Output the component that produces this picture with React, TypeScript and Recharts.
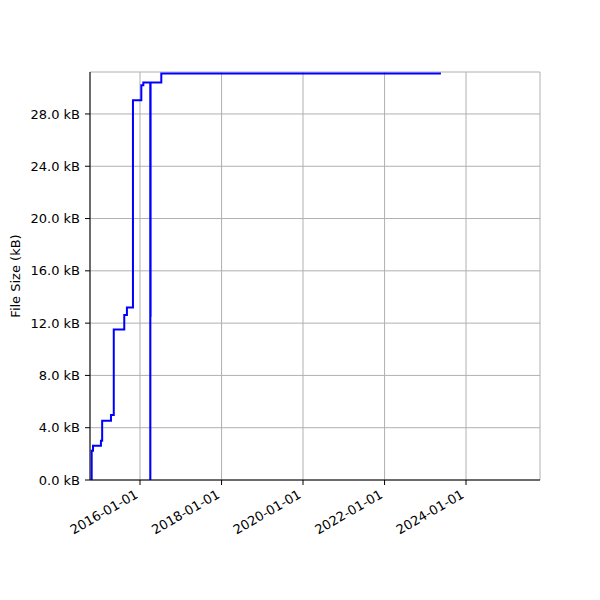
import React from "react";
import { LineChart, Line, XAxis, YAxis, CartesianGrid } from "recharts";

const dates = [
  "2014-10-19", "2014-10-25", "2014-11-06", "2015-01-16", "2015-01-27",
  "2015-04-16", "2015-05-11", "2015-08-13", "2015-09-06", "2015-10-30",
  "2016-01-13", "2016-01-31", "2016-04-02", "2016-04-03", "2016-04-05",
  "2016-07-10", "2023-05-21",
];
const sizesKB = [
  0, 2.24, 2.62, 3.0, 4.53,
  4.97, 11.52, 12.62, 13.2, 29.04,
  30.19, 30.4, 0, 12.57, 30.4,
  31.09, 31.09,
];
const xTickDates = ["2016-01-01", "2018-01-01", "2020-01-01", "2022-01-01", "2024-01-01"];
const yTicks = [0, 4, 8, 12, 16, 20, 24, 28];
const xDomainDates = ["2014-10-10", "2025-10-25"];
const yDomain = [0, 31.21];

const toTs = (d: string) => Date.parse(d + "T00:00:00Z");
const data = dates.map((d, i) => ({ t: toTs(d), v: sizesKB[i] }));
const xTicks = xTickDates.map(toTs);
const xDomain = xDomainDates.map(toTs);

const FONT = "DejaVu Sans";

const XTick = (props: any) => {
  const { x, y, payload } = props;
  const label = new Date(payload.value).toISOString().slice(0, 10);
  return (
    <g transform={`translate(${x - 1},${y + 10})`}>
      <text
        x={0}
        y={0}
        textAnchor="end"
        transform="rotate(-30)"
        fontFamily={FONT}
        fontSize={13}
        fill="#000"
      >
        {label}
      </text>
    </g>
  );
};

export default function App() {
  return (
    <div style={{ position: "absolute", left: 0, top: 0, width: 600, height: 600, background: "#fff" }}>
      <LineChart
        width={600}
        height={600}
        data={data}
        margin={{ top: 72, right: 60, bottom: 0, left: 0 }}
      >
        <CartesianGrid stroke="#b0b0b0" strokeWidth={1} />
        <XAxis
          dataKey="t"
          type="number"
          domain={xDomain}
          ticks={xTicks}
          allowDataOverflow
          height={120}
          tick={<XTick />}
          tickSize={5}
          tickMargin={2}
          axisLine={{ stroke: "#000", strokeWidth: 1 }}
          tickLine={{ stroke: "#000", strokeWidth: 1 }}
          interval={0}
        />
        <XAxis
          xAxisId="top"
          orientation="top"
          dataKey="t"
          type="number"
          domain={xDomain}
          allowDataOverflow
          height={0}
          tick={false}
          tickLine={false}
          axisLine={{ stroke: "#000", strokeWidth: 1 }}
        />
        <YAxis
          type="number"
          domain={yDomain}
          ticks={yTicks}
          allowDataOverflow
          width={90}
          tickSize={5}
          tickMargin={5}
          interval={0}
          tickFormatter={(v: number) => `${v.toFixed(1)} kB`}
          tick={{ fontFamily: FONT, fontSize: 13, fill: "#000" }}
          axisLine={{ stroke: "#000", strokeWidth: 1 }}
          tickLine={{ stroke: "#000", strokeWidth: 1 }}
        />
        <YAxis
          yAxisId="right"
          orientation="right"
          type="number"
          domain={yDomain}
          allowDataOverflow
          width={0}
          tick={false}
          tickLine={false}
          axisLine={{ stroke: "#000", strokeWidth: 1 }}
        />
        <Line
          type="stepAfter"
          dataKey="v"
          stroke="#0000ff"
          strokeWidth={2}
          dot={false}
          isAnimationActive={false}
        />
      </LineChart>
      <svg
        width={600}
        height={600}
        style={{ position: "absolute", left: 0, top: 0, pointerEvents: "none" }}
      >
        <text
          x={20}
          y={276}
          transform="rotate(-90 20 276)"
          textAnchor="middle"
          fontFamily={FONT}
          fontSize={13}
          fill="#000"
        >
          File Size (kB)
        </text>
      </svg>
    </div>
  );
}
